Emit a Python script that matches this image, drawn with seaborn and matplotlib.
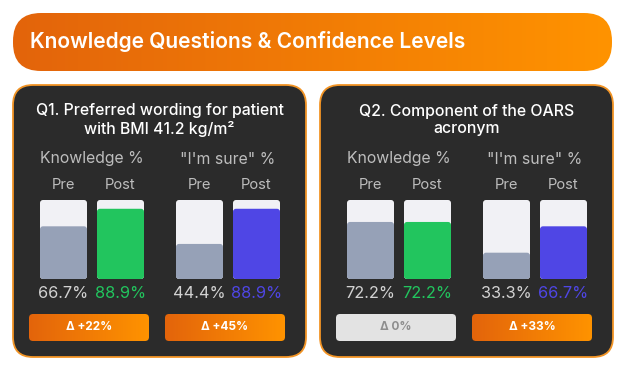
import numpy as np
import pandas as pd
import matplotlib
matplotlib.use("Agg")
import matplotlib.pyplot as plt
from matplotlib.patches import FancyBboxPatch
from matplotlib.transforms import IdentityTransform
from matplotlib.colors import LinearSegmentedColormap
import seaborn as sns

# ---------------- data ----------------
title = "Knowledge Questions & Confidence Levels"
questions = ["Q1. Preferred wording for patient\nwith BMI 41.2 kg/m²",
             "Q2. Component of the OARS\nacronym"]
metrics = ["Knowledge %", '"I\'m sure" %']
phases = ["Pre", "Post"]
knowledge_pre = [66.7, 72.2]
knowledge_post = [88.9, 72.2]
sure_pre = [44.4, 33.3]
sure_post = [88.9, 66.7]
deltas = [[22, 45], [0, 33]]

# ---------------- style ----------------
sns.set_theme(style="white")
plt.rcParams["font.family"] = ["Inter", "DejaVu Sans"]

W, H = 625, 370
fig = plt.figure(figsize=(W / 100, H / 100), dpi=100)
fig.patch.set_facecolor("white")

bg = fig.add_axes([0, 0, 1, 1])
bg.set_xlim(0, W)
bg.set_ylim(H, 0)
bg.axis("off")

orange_cmap = LinearSegmentedColormap.from_list("og", ["#E3640B", "#FF9300"])
grad = np.linspace(0, 1, 256).reshape(1, -1)


def gradient_box(x0, y0, w, h, r, z=2):
    box = FancyBboxPatch((x0, y0), w, h, boxstyle=f"round,pad=0,rounding_size={r}",
                         facecolor="none", edgecolor="none", zorder=z)
    bg.add_patch(box)
    im = bg.imshow(grad, extent=(x0, x0 + w, y0 + h, y0), cmap=orange_cmap,
                   aspect="auto", zorder=z, interpolation="bilinear")
    im.set_clip_path(box)
    bg.set_xlim(0, W)
    bg.set_ylim(H, 0)


# header
gradient_box(13, 13, 599, 58, 28)
bg.text(30, 42, title, color="white", fontsize=15.1, fontweight="semibold",
        va="center", ha="left", zorder=5)

panel_left = [13, 320]
panel_w, panel_top, panel_h = 293, 85, 272
group_off = [27, 163]
group_w = 104
bar_top, bar_bot = 200, 279
bw = 47 / 57

track_color = "#F1F1F5"
pre_color = "#96A1B7"
post_colors = ["#22C55E", "#4F46E5"]
label_gray = "#BDBDBD"

for qi in range(2):
    pl = panel_left[qi]
    panel = FancyBboxPatch((pl, panel_top), panel_w, panel_h,
                           boxstyle="round,pad=0,rounding_size=20",
                           facecolor="#2B2B2B", edgecolor="#F29425", linewidth=1.3, zorder=1)
    bg.add_patch(panel)
    bg.text(pl + panel_w / 2, 120, questions[qi], color="white", fontsize=11.4,
            fontweight="medium", ha="center", va="center", linespacing=1.2, zorder=5)

    groups = [(knowledge_pre[qi], knowledge_post[qi]), (sure_pre[qi], sure_post[qi])]
    for gi in range(2):
        gx = pl + group_off[gi]
        pre_v, post_v = groups[gi]
        ax = fig.add_axes([gx / W, 1 - bar_bot / H, group_w / W, (bar_bot - bar_top) / H])
        df = pd.DataFrame({"phase": phases, "value": [pre_v, post_v], "track": [100, 100]})
        sns.barplot(data=df, x="phase", y="track", color=track_color, width=bw,
                    saturation=1, ax=ax)
        sns.barplot(data=df, x="phase", y="value", hue="phase",
                    palette=[pre_color, post_colors[gi]], width=bw, saturation=1,
                    legend=False, ax=ax)
        ax.set_xlim(-bw / 2, 1 + bw / 2)
        ax.set_ylim(0, 100)
        ax.axis("off")
        ax.patch.set_alpha(0)

        # round the bar corners
        for p in list(ax.patches):
            x0, y0 = p.get_x(), p.get_y()
            (dx0, dy0), (dx1, dy1) = ax.transData.transform(
                [(x0, y0), (x0 + p.get_width(), y0 + p.get_height())])
            rp = FancyBboxPatch((dx0, dy0), dx1 - dx0, dy1 - dy0,
                                boxstyle="round,pad=0,rounding_size=3",
                                facecolor=p.get_facecolor(), edgecolor="none",
                                transform=IdentityTransform(), clip_on=False,
                                zorder=p.get_zorder())
            p.set_visible(False)
            ax.add_artist(rp)

        # labels
        cx = gx + group_w / 2
        bg.text(cx, 159, metrics[gi], color=label_gray, fontsize=11.4,
                ha="center", va="center", zorder=5)
        for bi, (ph, v) in enumerate(zip(phases, [pre_v, post_v])):
            bx = gx + 23.5 + bi * 57
            bg.text(bx, 185, ph, color=label_gray, fontsize=10.6,
                    ha="center", va="center", zorder=5)
            col = "#D2D2D2" if bi == 0 else post_colors[gi]
            bg.text(bx, 293, f"{v:.1f}%", color=col, fontsize=11.8,
                    ha="center", va="center", zorder=5)

        # delta badge
        d = deltas[qi][gi]
        bx0 = pl + (16 if gi == 0 else 152)
        if d > 0:
            gradient_box(bx0, 314, 120, 27, 4, z=3)
            bg.text(bx0 + 60, 327.5, f"Δ +{d}%", color="white", fontsize=8.5,
                    fontweight="bold", ha="center", va="center", zorder=5)
        else:
            bg.add_patch(FancyBboxPatch((bx0, 314), 120, 27,
                                        boxstyle="round,pad=0,rounding_size=4",
                                        facecolor="#E3E3E3", edgecolor="none", zorder=3))
            bg.text(bx0 + 60, 327.5, f"Δ {d}%", color="#8E8E8E", fontsize=8.5,
                    fontweight="bold", ha="center", va="center", zorder=5)

fig.savefig("out.png", dpi=100, facecolor="white")
